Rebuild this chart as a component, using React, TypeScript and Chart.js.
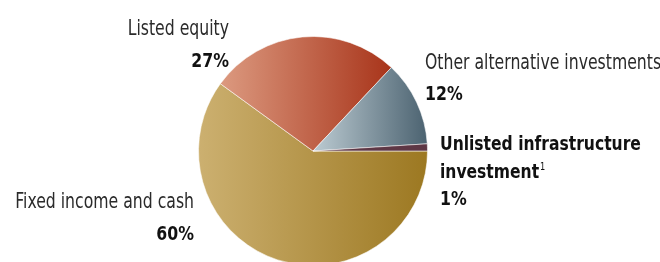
import React, { useEffect, useRef } from "react";
import { Chart, registerables } from "chart.js";

Chart.register(...registerables);

const labels = [
  "Fixed income and cash",
  "Listed equity",
  "Other alternative investments",
  "Unlisted infrastructure investment",
];
const values = [60, 27, 12, 1];
const valueLabels = ["60%", "27%", "12%", "1%"];
const labelLines = [
  ["Fixed income and cash"],
  ["Listed equity"],
  ["Other alternative investments"],
  ["Unlisted infrastructure", "investment"],
];
const footnoteMarks = ["", "", "", "1"];

// gradient colours (left -> right)
const gradientStops = [
  ["#ccb070", "#9c7821"],
  ["#dc9a80", "#a8341a"],
  ["#bccbd2", "#4b6270"],
  ["#5e3745", "#5e3745"],
];

const FONT = '"DejaVu Sans Condensed", "Liberation Sans Narrow", sans-serif';
const REG_SCALE = 0.83;
const BOLD_SCALE = 0.91;

// label placement (style only)
const labelPlacement = [
  { x: 194, y: [208, 240], align: "right", boldName: false },
  { x: 229, y: [35, 67], align: "right", boldName: false },
  { x: 425, y: [69, 100], align: "left", boldName: false },
  { x: 440, y: [150, 178, 205], align: "left", boldName: true },
];

function sliceGradient(ctxArg: any) {
  const chart = ctxArg.chart;
  const i = ctxArg.dataIndex;
  const area = chart.chartArea;
  if (!area || i === undefined) return gradientStops[i ?? 0][0];
  const cx = (area.left + area.right) / 2;
  const r = Math.min(area.right - area.left, area.bottom - area.top) / 2;
  const total = values.reduce((a, b) => a + b, 0);
  let cum = 0;
  for (let k = 0; k < i; k++) cum += values[k];
  const a0 = (cum / total) * Math.PI * 2;
  const a1 = ((cum + values[i]) / total) * Math.PI * 2;
  let minX = cx, maxX = cx;
  for (let s = 0; s <= 60; s++) {
    const a = a0 + ((a1 - a0) * s) / 60;
    const x = cx + r * Math.cos(a);
    minX = Math.min(minX, x);
    maxX = Math.max(maxX, x);
  }
  const g = chart.ctx.createLinearGradient(minX, 0, maxX, 0);
  g.addColorStop(0, gradientStops[i][0]);
  g.addColorStop(1, gradientStops[i][1]);
  return g;
}

function drawScaled(ctx: any, text: string, x: number, y: number, align: string, sx: number) {
  ctx.save();
  ctx.translate(x, y);
  ctx.scale(sx, 1);
  ctx.textAlign = align;
  ctx.fillText(text, 0, 0);
  ctx.restore();
  return ctx.measureText(text).width * sx;
}

const labelPlugin = {
  id: "sliceLabels",
  afterDraw(chart: any) {
    const ctx = chart.ctx;
    ctx.save();
    ctx.textBaseline = "alphabetic";
    labelLines.forEach((lines, i) => {
      const p = labelPlacement[i];
      lines.forEach((line, j) => {
        ctx.fillStyle = p.boldName ? "#111" : "#2a2a2a";
        ctx.font = (p.boldName ? "bold 19px " : "21px ") + FONT;
        const sx = p.boldName ? BOLD_SCALE : REG_SCALE;
        const w = drawScaled(ctx, line, p.x, p.y[j], p.align, sx);
        if (j === lines.length - 1 && footnoteMarks[i]) {
          ctx.font = "11px " + FONT;
          drawScaled(ctx, footnoteMarks[i], p.x + w + 1, p.y[j] - 8, "left", REG_SCALE);
        }
      });
      ctx.fillStyle = "#111";
      ctx.font = "bold 19px " + FONT;
      drawScaled(ctx, valueLabels[i], p.x, p.y[lines.length], p.align, 0.92);
    });
    ctx.restore();
  },
};

export default function App() {
  const ref = useRef<HTMLCanvasElement | null>(null);
  useEffect(() => {
    document.body.style.overflow = "hidden";
    const chart = new Chart(ref.current!, {
      type: "pie",
      data: {
        labels,
        datasets: [
          {
            data: values,
            backgroundColor: sliceGradient as any,
            borderColor: "rgba(255,255,255,0.55)",
            borderWidth: 1,
          },
        ],
      },
      options: {
        responsive: false,
        animation: false,
        rotation: 90,
        layout: { padding: { left: 198, right: 232, top: 36, bottom: 34 } },
        plugins: { legend: { display: false }, tooltip: { enabled: false } },
      },
      plugins: [labelPlugin],
    });
    return () => chart.destroy();
  }, []);
  return (
    <div style={{ position: "fixed", left: 0, top: 0, width: 660, height: 300, background: "#fff" }}>
      <canvas ref={ref} width={660} height={300} style={{ width: 660, height: 300 }} />
    </div>
  );
}
